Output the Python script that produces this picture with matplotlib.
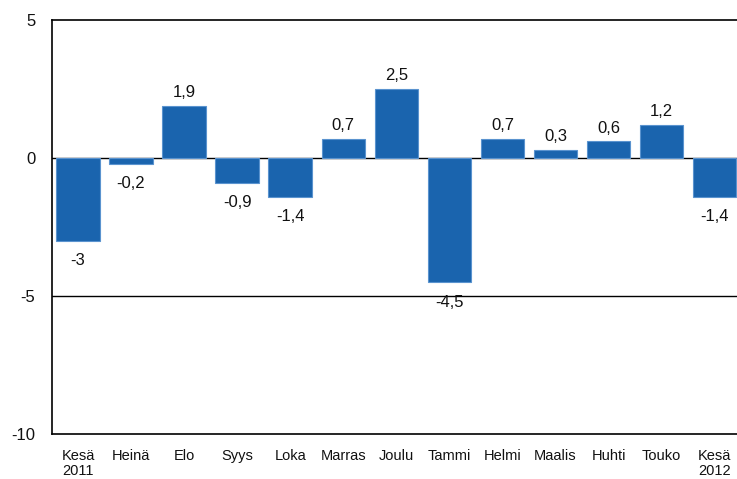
import numpy as np
import matplotlib
matplotlib.use("Agg")
import matplotlib.pyplot as plt

# kuukausimuutokset (%)
months = ['Kesä\n2011', 'Heinä', 'Elo', 'Syys', 'Loka', 'Marras', 'Joulu',
          'Tammi', 'Helmi', 'Maalis', 'Huhti', 'Touko', 'Kesä\n2012']
values = [-3, -0.2, 1.9, -0.9, -1.4, 0.7, 2.5, -4.5, 0.7, 0.3, 0.6, 1.2, -1.4]
yticks = [5, 0, -5, -10]

plt.rcParams['font.family'] = ['Liberation Sans', 'DejaVu Sans']

fig = plt.figure(figsize=(7.37, 4.79), dpi=100)
ax = fig.add_axes([52 / 737, 1 - 434 / 479, 1 - 52 / 737, (434 - 20) / 479])

x = np.arange(len(values))
ax.bar(x, values, width=0.82, color='#1a64ae', edgecolor='#5a93cf', linewidth=0.8, zorder=3)

for xi, v in zip(x, values):
    txt = ('%g' % v).replace('.', ',')
    if v >= 0:
        ax.annotate(txt, (xi, v), xytext=(0, 4), textcoords='offset points',
                    ha='center', va='bottom', fontsize=12, color='#111111')
    else:
        ax.annotate(txt, (xi, v), xytext=(0, -9), textcoords='offset points',
                    ha='center', va='top', fontsize=12, color='#111111')

ax.set_ylim(-10, 5)
ax.set_xlim(-0.49, 12.42)
ax.set_yticks(yticks)
ax.set_yticklabels([str(t) for t in yticks], fontsize=12, color='#111111')
ax.set_xticks(x)
ax.set_xticklabels(months, fontsize=10.5, linespacing=1.05, color='#111111')
ax.tick_params(axis='both', length=0)
ax.tick_params(axis='y', pad=12)
ax.tick_params(axis='x', pad=11)

for yv in [0, -5]:
    ax.axhline(yv, color='black', linewidth=1.0, zorder=2)

ax.spines['right'].set_visible(False)
for s in ['left', 'top', 'bottom']:
    ax.spines[s].set_linewidth(1.2)

fig.savefig('out.png', dpi=100)
